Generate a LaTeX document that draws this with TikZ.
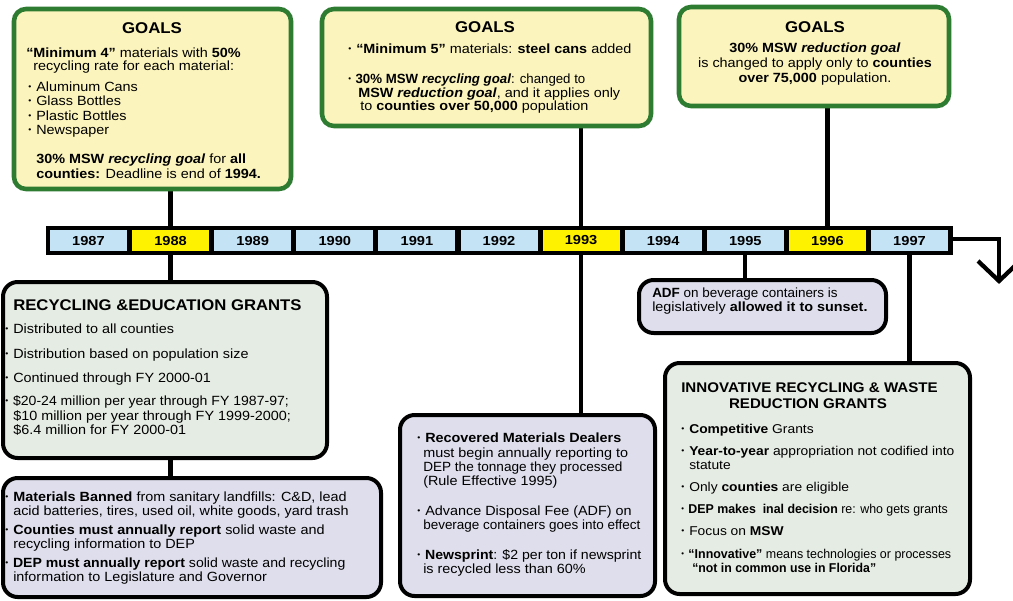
\documentclass[tikz,border=0pt]{standalone}
\usepackage{graphicx}
\usepackage{fontspec}
\setmainfont[FakeStretch=1.08]{Liberation Sans}
\newfontfamily\yrfont[FakeStretch=1.12]{Liberation Sans}
\usetikzlibrary{fit}
\pgfdeclarelayer{background}
\pgfsetlayers{background,main}
\definecolor{goalgreen}{HTML}{2E7B32}
\definecolor{goalfill}{HTML}{FBF4BC}
\definecolor{grantfill}{HTML}{E5ECE3}
\definecolor{lavfill}{HTML}{DEDEEC}
\definecolor{yrblue}{HTML}{C4E4F6}
\definecolor{yryellow}{HTML}{FFF200}
\newcommand\bul{\makebox[6pt][l]{\raisebox{0.12em}{\fontsize{6}{6}\selectfont •}}}
\newcommand\cx[2]{\scalebox{#1}[1]{#2}}
\tikzset{
  goalbox/.style={draw=goalgreen, line width=3.4pt, fill=goalfill, rounded corners=9pt, inner sep=0pt},
  grantbox/.style={draw=black, line width=3pt, fill=grantfill, rounded corners=11pt, inner sep=0pt},
  lavbox/.style={draw=black, line width=3pt, fill=lavfill, rounded corners=11pt, inner sep=0pt},
  cell/.style={minimum width=57.75pt, minimum height=15.75pt, inner sep=0pt, font=\yrfont\bfseries\fontsize{9.8}{10}\selectfont},
  bluecell/.style={cell, fill=yrblue},
  yelcell/.style={cell, fill=yryellow},
  conn/.style={line width=3.2pt, draw=black},
  tx/.style={anchor=base west, inner sep=0pt, font=\fontsize{10}{12}\selectfont},
  txs/.style={tx, font=\fontsize{9.6}{12}\selectfont},
  txc/.style={tx, anchor=base},
  ttl/.style={anchor=base, inner sep=0pt, font=\bfseries\fontsize{11.7}{14}\selectfont},
  ttll/.style={anchor=base west, inner sep=0pt, font=\bfseries\fontsize{11.6}{14}\selectfont},
  ttli/.style={anchor=base west, inner sep=0pt, font=\bfseries\fontsize{10.5}{13}\selectfont},
}
\begin{document}
\begin{tikzpicture}[x=0.75pt, y=-0.75pt]
\useasboundingbox (0,0) rectangle (1013,600);

% timeline
\node[fill=black, inner sep=0pt, fit={(46,226) (953,255)}] (tl) {};
\foreach \yr/\c [count=\i from 0] in {1987/bluecell, 1988/yelcell, 1989/bluecell, 1990/bluecell, 1991/bluecell, 1992/bluecell, 1993/yelcell, 1994/bluecell, 1995/bluecell, 1996/yelcell, 1997/bluecell}
  \node[\c] (y\yr) at ({88.5+82.1*\i},240.5) {\yr};

% goal boxes
\node[goalbox, fit={(14,9) (291,189)}] (g1) {};
\node[goalbox, fit={(322,9) (651,126)}] (g2) {};
\node[goalbox, fit={(679,7) (949,106)}] (g3) {};

% lower boxes
\node[grantbox, fit={(3,282) (327,458)}] (rg) {};
\node[lavbox, fit={(3,478) (381,597)}] (mb) {};
\node[lavbox, fit={(400,415) (655,596)}] (mid) {};
\node[lavbox, fit={(639,280) (886,333)}] (adf) {};
\node[grantbox, fit={(665,363) (970,594)}] (inn) {};

% connectors
\coordinate (ac) at (999,239);
\coordinate (ae) at (999,281);
\coordinate (wl) at (978,261);
\coordinate (wr) at (1020,261);
\begin{pgfonlayer}{background}
\draw[conn] (y1988.north) -- (y1988.north |- g1.south);
\draw[conn] (y1993.north) -- (y1993.north |- g2.south);
\draw[conn] (y1996.north) -- (y1996.north |- g3.south);
\draw[conn] (y1988.south) -- (y1988.south |- rg.north);
\draw[conn] (rg.south -| y1988) -- (mb.north -| y1988);
\draw[conn] (y1993.south) -- (y1993.south |- mid.north);
\draw[conn] (y1995.south) -- (y1995.south |- adf.north);
\draw[conn] (y1997.south) -- (y1997.south |- inn.north);
\draw[conn] (tl.east |- ac) -- (ac) -- (ae);
\end{pgfonlayer}
\draw[conn, line join=miter] (wl) -- (ae) -- (wr);

% goal 1
\node[ttl] (g1t) at (152,33) {GOALS};
\node[tx] (g1a) at (26,57) {\textbf{“Minimum 4”} materials with \textbf{50\%}};
\node[tx] (g1b) at (33,70.5) {recycling rate for each material:};
\node[tx] (g1c) at (28,91) {\bul Aluminum Cans};
\node[tx] (g1d) at (28,105) {\bul Glass Bottles};
\node[tx] (g1e) at (28,120) {\bul Plastic Bottles};
\node[tx] (g1f) at (28,134) {\bul Newspaper};
\node[tx] (g1g) at (36,163) {\textbf{30\% MSW \textit{recycling goal}} for \textbf{all}};
\node[tx] (g1h) at (36,178) {\textbf{counties:} Deadline is end of \textbf{1994.}};

% goal 2
\node[ttl] (g2t) at (485,32) {GOALS};
\node[tx] (g2a) at (348,53) {\bul\textbf{“Minimum 5”} materials: \textbf{steel cans} added};
\node[tx] (g2b) at (348,83) {\cx{0.92}{\bul\textbf{30\% MSW \textit{recycling goal}}: changed to}};
\node[tx] (g2c) at (358,97) {\textbf{MSW \textit{reduction goal}}, and it applies only};
\node[tx] (g2d) at (360,110.5) {to \textbf{counties over 50,000} population};

% goal 3
\node[ttl] (g3t) at (815,32) {GOALS};
\node[txc] (g3a) at (815,52.5) {\textbf{30\% MSW \textit{reduction goal}}};
\node[txc] (g3b) at (815,67.5) {is changed to apply only to \textbf{counties}};
\node[txc] (g3c) at (815,82) {\textbf{over 75,000} population.};

% recycling & education grants
\node[ttll] (rgt) at (13,310) {RECYCLING \&EDUCATION GRANTS};
\node[tx] (rga) at (5,333) {\bul Distributed to all counties};
\node[tx] (rgb) at (5,358) {\bul Distribution based on population size};
\node[tx] (rgc) at (5,382) {\bul Continued through FY 2000-01};
\node[tx] (rgd) at (5,405) {\cx{0.976}{\bul \$20-24 million per year through FY 1987-97;}};
\node[tx] (rge) at (13,420) {\$10 million per year through FY 1999-2000;};
\node[tx] (rgf) at (13,434) {\$6.4 million for FY 2000-01};

% materials banned
\node[tx] (mba) at (5,501) {\bul\textbf{Materials Banned} from sanitary landfills: C\&D, lead};
\node[tx] (mbb) at (13,515) {acid batteries, tires, used oil, white goods, yard trash};
\node[tx] (mbc) at (5,534) {\bul\textbf{Counties must annually report} solid waste and};
\node[tx] (mbd) at (13,548) {recycling information to DEP};
\node[tx] (mbe) at (5,567) {\cx{0.977}{\bul\textbf{DEP must annually report} solid waste and recycling}};
\node[tx] (mbf) at (13,581) {information to Legislature and Governor};

% middle box
\node[tx] (mia) at (417,442.5) {\bul\textbf{Recovered Materials Dealers}};
\node[tx] (mib) at (423,457) {must begin annually reporting to};
\node[tx] (mic) at (423,471.5) {\cx{0.943}{DEP the tonnage they processed}};
\node[tx] (mid1) at (423,485.5) {(Rule Effective 1995)};
\node[tx] (mie) at (417,515.5) {\bul Advance Disposal Fee (ADF) on};
\node[tx] (mif) at (423,529.5) {\cx{0.936}{beverage containers goes into effect}};
\node[tx] (mig) at (417,559.5) {\cx{0.98}{\bul\textbf{Newsprint}: \$2 per ton if newsprint}};
\node[tx] (mih) at (423,573.5) {is recycled less than 60\%};

% ADF box
\node[tx] (adfa) at (652,297) {\cx{0.934}{\textbf{ADF} on beverage containers is}};
\node[tx] (adfb) at (652,311) {legislatively \textbf{allowed it to sunset.}};

% innovative grants
\node[ttli] (inta) at (681,392) {INNOVATIVE RECYCLING \& WASTE};
\node[ttli, anchor=base] (intb) at (808,408) {REDUCTION GRANTS};
\node[txs] (ina) at (681,433) {\bul\textbf{Competitive} Grants};
\node[txs] (inb) at (681,455) {\bul\textbf{Year-to-year} appropriation not codified into};
\node[txs] (inc) at (689,469) {statute};
\node[txs] (ind) at (681,491) {\bul Only \textbf{counties} are eligible};
\node[txs] (ine) at (681,513) {\cx{0.896}{\bul\textbf{DEP makes \ inal decision} re: who gets grants}};
\node[txs] (inf) at (681,535) {\bul Focus on \textbf{MSW}};
\node[txs] (ing) at (681,558) {\cx{0.9}{\bul\textbf{“Innovative”} means technologies or processes}};
\node[txs] (inh) at (692,572) {\cx{0.89}{\textbf{“not in common use in Florida”}}};
\end{tikzpicture}
\end{document}
